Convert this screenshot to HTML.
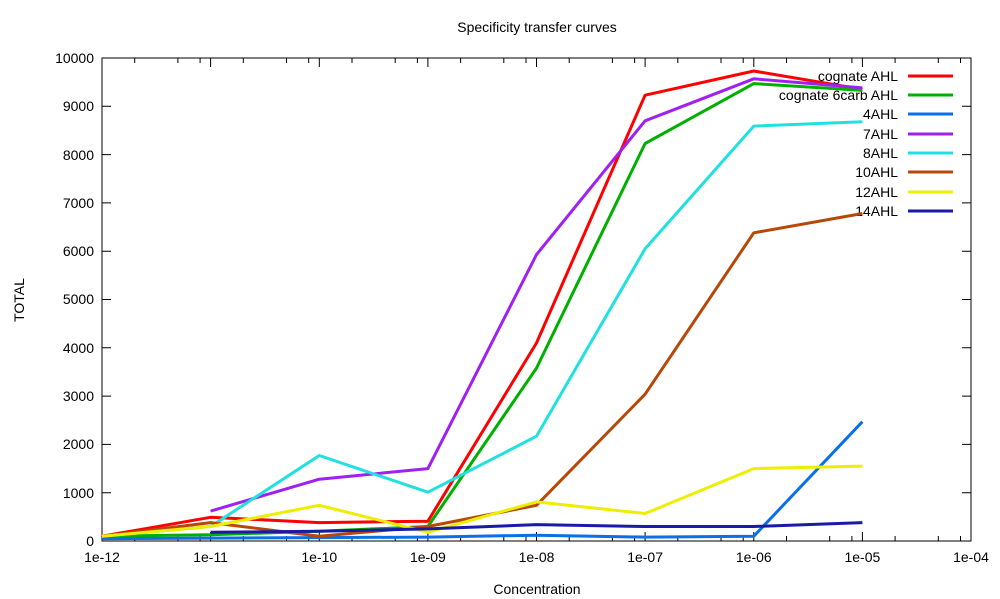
<!DOCTYPE html>
<html><head><meta charset="utf-8"><style>body{margin:0;background:#fff}svg{display:block}</style></head>
<body>
<svg width="1000" height="599" xmlns="http://www.w3.org/2000/svg" font-family="Liberation Sans, sans-serif" font-size="14">
<rect width="1000" height="599" fill="#fff"/>
<text x="537" y="32" text-anchor="middle">Specificity transfer curves</text>
<g stroke="#000" stroke-width="1" fill="none">
<rect x="102" y="58" width="869" height="483"/>
<path d="M102 541v-9M102 58v9M210.6 541v-9M210.6 58v9M319.3 541v-9M319.3 58v9M427.9 541v-9M427.9 58v9M536.5 541v-9M536.5 58v9M645.1 541v-9M645.1 58v9M753.8 541v-9M753.8 58v9M862.4 541v-9M862.4 58v9M971 541v-9M971 58v9"/>
<path d="M134.7 541v-5M177.9 541v-5M200.1 541v-5M243.3 541v-5M286.5 541v-5M308.7 541v-5M352 541v-5M395.2 541v-5M417.4 541v-5M460.6 541v-5M503.8 541v-5M526 541v-5M569.2 541v-5M612.4 541v-5M634.6 541v-5M677.8 541v-5M721 541v-5M743.2 541v-5M786.5 541v-5M829.7 541v-5M851.9 541v-5M895.1 541v-5M938.3 541v-5M960.5 541v-5"/>
<path d="M134.7 58v5M177.9 58v5M200.1 58v5M243.3 58v5M286.5 58v5M308.7 58v5M352 58v5M395.2 58v5M417.4 58v5M460.6 58v5M503.8 58v5M526 58v5M569.2 58v5M612.4 58v5M634.6 58v5M677.8 58v5M721 58v5M743.2 58v5M786.5 58v5M829.7 58v5M851.9 58v5M895.1 58v5M938.3 58v5M960.5 58v5"/>
<path d="M102 492.7h9M102 444.4h9M102 396.1h9M102 347.8h9M102 299.5h9M102 251.2h9M102 202.9h9M102 154.6h9M102 106.3h9M971 492.7h-9M971 444.4h-9M971 396.1h-9M971 347.8h-9M971 299.5h-9M971 251.2h-9M971 202.9h-9M971 154.6h-9M971 106.3h-9"/>
</g>
<g text-anchor="end">
<text x="94" y="546">0</text><text x="94" y="498">1000</text><text x="94" y="449">2000</text><text x="94" y="401">3000</text><text x="94" y="353">4000</text><text x="94" y="304">5000</text><text x="94" y="256">6000</text><text x="94" y="208">7000</text><text x="94" y="160">8000</text><text x="94" y="111">9000</text><text x="94" y="63">10000</text>
</g>
<g text-anchor="middle">
<text x="102" y="562">1e-12</text><text x="210.6" y="562">1e-11</text><text x="319.3" y="562">1e-10</text><text x="427.9" y="562">1e-09</text><text x="536.5" y="562">1e-08</text><text x="645.1" y="562">1e-07</text><text x="753.8" y="562">1e-06</text><text x="862.4" y="562">1e-05</text><text x="971" y="562">1e-04</text>
</g>
<text x="537" y="594" text-anchor="middle">Concentration</text>
<text transform="translate(24,300) rotate(-90)" text-anchor="middle">TOTAL</text>
<g text-anchor="end">
<text x="898" y="81">cognate AHL</text><text x="898" y="100">cognate 6carb AHL</text><text x="898" y="119">4AHL</text><text x="898" y="139">7AHL</text><text x="898" y="158">8AHL</text><text x="898" y="177">10AHL</text><text x="898" y="197">12AHL</text><text x="898" y="216">14AHL</text>
</g>
<g fill="none" stroke-width="3" stroke-linejoin="round">
<path d="M908 76H953" stroke="#ff0000"/><path d="M908 95H953" stroke="#00b000"/><path d="M908 114H953" stroke="#0a70e8"/><path d="M908 134H953" stroke="#a020f0"/><path d="M908 153H953" stroke="#20e0e0"/><path d="M908 172H953" stroke="#b84808"/><path d="M908 192H953" stroke="#eeee00"/><path d="M908 211H953" stroke="#1a1aa8"/>
<path stroke="#ff0000" d="M102 536.2L210.6 517.3L319.3 522.6L427.9 521.2L536.5 343L645.1 95.2L753.8 71L862.4 89.4"/>
<path stroke="#00b000" d="M102 536.2L210.6 534.7L319.3 531.3L427.9 526.5L536.5 368.1L645.1 143.5L753.8 83.6L862.4 90.4"/>
<path stroke="#0a70e8" d="M102 538.6L210.6 538.1L319.3 537.6L427.9 537.1L536.5 535.2L645.1 537.1L753.8 536.2L862.4 421.7"/>
<path stroke="#a020f0" d="M210.6 511.1L319.3 479.2L427.9 468.6L536.5 254.6L645.1 120.8L753.8 78.8L862.4 87.9"/>
<path stroke="#20e0e0" d="M102 536.2L210.6 526.5L319.3 455.5L427.9 492.2L536.5 436.2L645.1 248.8L753.8 126.1L862.4 121.8"/>
<path stroke="#b84808" d="M102 536.2L210.6 522.6L319.3 536.2L427.9 526.5L536.5 505.3L645.1 394.2L753.8 232.8L862.4 213.5"/>
<path stroke="#eeee00" d="M102 536.2L210.6 526.5L319.3 505.3L427.9 532.3L536.5 501.9L645.1 513.5L753.8 468.6L862.4 466.1"/>
<path stroke="#1a1aa8" d="M210.6 532.3L319.3 531.3L427.9 528.9L536.5 524.6L645.1 526.5L753.8 526.5L862.4 522.6"/>
</g>
</svg>
</body></html>
